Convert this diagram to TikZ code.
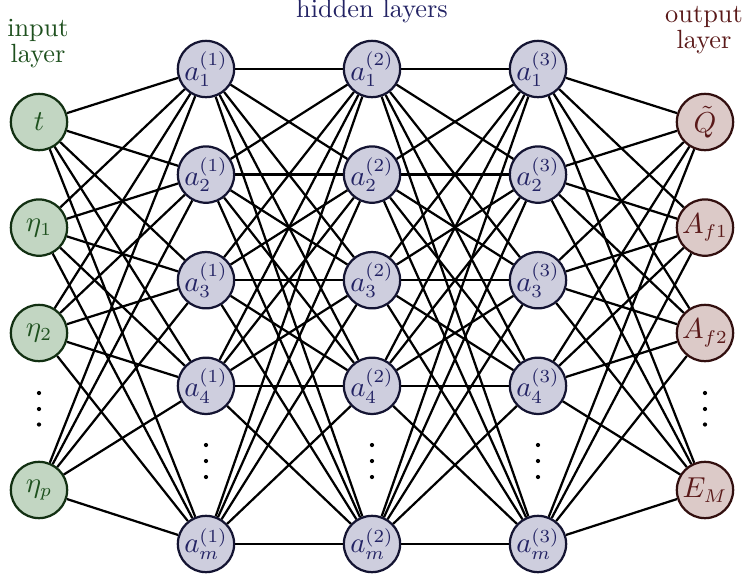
\documentclass[tikz,border=0pt]{standalone}
\usetikzlibrary{calc}
\definecolor{infill}{RGB}{194,214,194}
\definecolor{indraw}{RGB}{18,48,18}
\definecolor{intext}{RGB}{30,80,30}
\definecolor{hidfill}{RGB}{206,206,222}
\definecolor{hiddraw}{RGB}{20,20,50}
\definecolor{hidtext}{RGB}{35,35,100}
\definecolor{outfill}{RGB}{220,202,200}
\definecolor{outdraw}{RGB}{50,15,15}
\definecolor{outtext}{RGB}{90,25,25}
\begin{document}
\begin{tikzpicture}[x=0.38pt,y=-0.38pt,
  neuron/.style={circle,minimum size=21.4pt,inner sep=0pt,line width=0.85pt,font=\fontsize{10.5}{12}\selectfont},
  inneuron/.style={neuron,fill=infill,draw=indraw,text=intext},
  hidneuron/.style={neuron,fill=hidfill,draw=hiddraw,text=hidtext},
  outneuron/.style={neuron,fill=outfill,draw=outdraw,text=outtext},
  conn/.style={line width=0.85pt,black},
  dot/.style={circle,fill=black,inner sep=0pt,minimum size=1.6pt},
  lbl/.style={align=center,inner sep=0pt}]
\useasboundingbox (0,0) rectangle (745,580);
% input layer
\node[inneuron] (i1) at (39,122) {$t$};
\node[inneuron] (i2) at (39,227.6) {$\eta_1$};
\node[inneuron] (i3) at (39,333) {$\eta_2$};
\node[inneuron] (i5) at (39,490) {$\eta_p$};
% hidden layers
\foreach \L/\x in {1/206,2/372,3/538}{
  \node[hidneuron] (h\L-1) at (\x,69) {$a_1^{(\L)}$};
  \node[hidneuron] (h\L-2) at (\x,174.6) {$a_2^{(\L)}$};
  \node[hidneuron] (h\L-3) at (\x,280.2) {$a_3^{(\L)}$};
  \node[hidneuron] (h\L-4) at (\x,385.8) {$a_4^{(\L)}$};
  \node[hidneuron] (h\L-5) at (\x,544) {$a_m^{(\L)}$};
  \node[dot] (hd\L a) at (\x,445) {};
  \node[dot] (hd\L b) at (\x,461) {};
  \node[dot] (hd\L c) at (\x,477) {};
}
% output layer
\node[outneuron] (o1) at (705,122) {$\tilde{Q}$};
\node[outneuron] (o2) at (705,227.6) {$A_{f1}$};
\node[outneuron] (o3) at (705,333) {$A_{f2}$};
\node[outneuron] (o5) at (705,490) {$E_M$};
% dots
\node[dot] (id1) at (39,393) {};
\node[dot] (id2) at (39,409) {};
\node[dot] (id3) at (39,424.5) {};
\node[dot] (od1) at (705,393) {};
\node[dot] (od2) at (705,409) {};
\node[dot] (od3) at (705,424.5) {};
% connections
\foreach \a in {1,2,3,5}{
  \foreach \b in {1,...,5}{
    \draw[conn] (i\a) -- (h1-\b);
    \draw[conn] (h3-\b) -- (o\a);
  }
}
\foreach \a in {1,...,5}{
  \foreach \b in {1,...,5}{
    \draw[conn] (h1-\a) -- (h2-\b);
    \draw[conn] (h2-\a) -- (h3-\b);
  }
}
% labels
\node[lbl,text=intext,anchor=base] (lin) at (38,62) {input\\[-2.3pt]layer};
\node[lbl,text=hidtext,anchor=base] (lhid) at (372,17) {hidden layers};
\node[lbl,text=outtext,anchor=base] (lout) at (704,48) {output\\[-2.3pt]layer};
\end{tikzpicture}
\end{document}
